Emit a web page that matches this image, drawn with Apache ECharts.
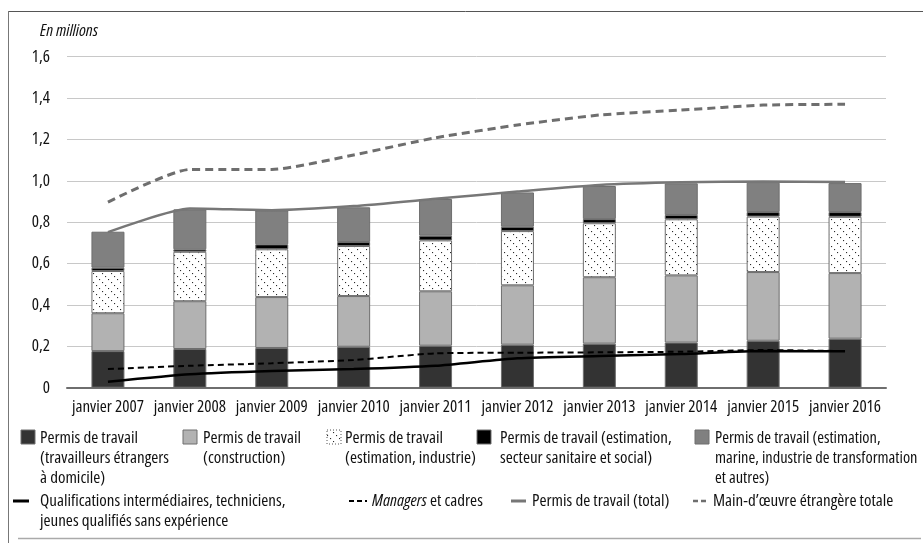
<!DOCTYPE html>
<html>
<head>
<meta charset="utf-8">
<script src="https://cdn.jsdelivr.net/npm/echarts@6/dist/echarts.min.js"></script>
<style>
  html, body { margin: 0; padding: 0; background: #fff; }
  #chart { width: 923px; height: 543px; }
</style>
</head>
<body>
<div id="chart"></div>
<script>
// Years shown on the horizontal axis
const categories = ['janvier 2007', 'janvier 2008', 'janvier 2009', 'janvier 2010', 'janvier 2011',
                    'janvier 2012', 'janvier 2013', 'janvier 2014', 'janvier 2015', 'janvier 2016'];

// Work permits by sector (millions), stacked
const permitsDomestic     = [0.177, 0.187, 0.192, 0.198, 0.203, 0.208, 0.213, 0.218, 0.227, 0.237];
const permitsConstruction = [0.183, 0.231, 0.246, 0.245, 0.263, 0.287, 0.321, 0.325, 0.332, 0.317];
const permitsIndustry     = [0.204, 0.239, 0.231, 0.242, 0.246, 0.262, 0.261, 0.271, 0.268, 0.272];
const permitsHealth       = [0.016, 0.012, 0.024, 0.019, 0.023, 0.021, 0.020, 0.021, 0.022, 0.023];
const permitsMarine       = [0.174, 0.193, 0.164, 0.168, 0.177, 0.166, 0.160, 0.153, 0.142, 0.140];

// Lines (millions)
const permitsTotal   = [0.752, 0.866, 0.858, 0.878, 0.913, 0.948, 0.980, 0.993, 0.997, 0.994];
const foreignTotal   = [0.897, 1.055, 1.055, 1.125, 1.208, 1.270, 1.318, 1.342, 1.366, 1.370];
const midSkilled     = [0.029, 0.065, 0.081, 0.090, 0.106, 0.142, 0.153, 0.163, 0.177, 0.176];
const managers       = [0.090, 0.106, 0.118, 0.134, 0.166, 0.169, 0.171, 0.174, 0.182, 0.177];

// Value axis ticks
const yTicks = [0, 0.2, 0.4, 0.6, 0.8, 1.0, 1.2, 1.4, 1.6];

// Pick the narrowest installed sans face (condensed width if the face offers one)
const fontChoice = (function () {
  const ctx = document.createElement('canvas').getContext('2d');
  const sample = 'Permis de travail';
  const measure = f => { ctx.font = f; return ctx.measureText(sample).width; };
  const fams = ['"Liberation Sans Narrow"', '"DejaVu Sans Condensed"', '"Open Sans"', '"Noto Sans"',
                '"DejaVu Sans"', 'Roboto', 'Lato', 'Inter', '"Liberation Sans"'];
  let best = null;
  fams.forEach(fam => {
    const installed = measure('16px ' + fam + ', monospace') !== measure('16px monospace');
    if (!installed) return;
    ['condensed ', ''].forEach(st => {
      const w = measure(st + '16px ' + fam);
      if (!best || w < best.w - 0.5) best = { fam, st: st.trim(), w };
    });
  });
  return best || { fam: 'sans-serif', st: '', w: 120 };
})();
const FONT = fontChoice.fam + ', sans-serif';
const STRETCH = fontChoice.st;                 // 'condensed' or ''
// Size so that the legend lines keep their measured width
const FS = Math.max(13, Math.min(17, Math.round(16 * 98 / fontChoice.w)));
const fontStr = (size, style) => [style || '', STRETCH, size + 'px', FONT].join(' ').trim();

// Dotted diagonal hatch used for the industry segment
function makeHatch() {
  const c = document.createElement('canvas');
  c.width = 9; c.height = 9;
  const g = c.getContext('2d');
  g.fillStyle = '#ffffff';
  g.fillRect(0, 0, 9, 9);
  g.fillStyle = '#2a2a2a';
  [[0, 0], [3, 3], [6, 6]].forEach(([x, y]) => g.fillRect(x, y, 1.1, 1.1));
  return c;
}
const hatch = { image: makeHatch(), repeat: 'repeat' };

const BORDER = '#6e6e6e';
function barSeries(name, data, color) {
  return {
    name, type: 'bar', stack: 'permis', data, barWidth: 33,
    itemStyle: { color, borderColor: BORDER, borderWidth: 1 },
    emphasis: { disabled: true }
  };
}
function lineSeries(name, data, color, width, dash) {
  return {
    name, type: 'line', data, symbol: 'none', smooth: 0.2, z: 5,
    lineStyle: { color, width, type: dash ? dash : 'solid' }
  };
}

// Legend drawn as graphic groups so multi-line labels align with their swatch
const textBase = { font: fontStr(FS), fill: '#111', lineHeight: 20, verticalAlign: 'top' };
function swatch(x, y, fill, dashedBorder) {
  return {
    type: 'rect', shape: { x, y, width: 14, height: 14 },
    style: { fill, stroke: dashedBorder ? '#555' : BORDER, lineWidth: 1, lineDash: dashedBorder ? [1, 2] : null }
  };
}
function label(x, y, text, extra) {
  return { type: 'text', x, y, style: Object.assign({}, textBase, { text }, extra || {}) };
}
function lineKey(x1, x2, y, color, width, dash) {
  return {
    type: 'line', shape: { x1, y1: y, x2, y2: y },
    style: { stroke: color, lineWidth: width, lineDash: dash || null }
  };
}

const row1 = 428, row2 = 491;
const legendGraphics = [
  swatch(21, 430, '#333333'),
  label(40, row1, 'Permis de travail\n(travailleurs étrangers\nà domicile)'),
  swatch(183, 430, '#b2b2b2'),
  label(203, row1, 'Permis de travail\n(construction)'),
  swatch(327, 430, hatch, true),
  label(345, row1, 'Permis de travail\n(estimation, industrie)'),
  swatch(477, 430, '#000000'),
  label(500, row1, 'Permis de travail (estimation,\nsecteur sanitaire et social)'),
  swatch(695, 430, '#808080'),
  label(715, row1, 'Permis de travail (estimation,\nmarine, industrie de transformation\net autres)',
        { font: fontStr(FS - 0.6) }),

  lineKey(13, 29, 501, '#000000', 3),
  label(40, row2, 'Qualifications intermédiaires, techniciens,\njeunes qualifiés sans expérience'),
  lineKey(349, 367, 501, '#000000', 2, [5, 3]),
  label(372, row2, '{i|Managers} et cadres', { rich: { i: { font: fontStr(FS, 'italic') } } }),
  lineKey(511, 526, 501, '#777777', 3),
  label(532, row2, 'Permis de travail (total)'),
  lineKey(693, 709, 501, '#6e6e6e', 2.5, [5, 3]),
  label(713, row2, 'Main-d’œuvre étrangère totale')
];

// Outer frame and unit caption
const frameGraphics = [
  lineKey(8, 923, 11.5, '#555555', 1),
  { type: 'line', shape: { x1: 8.5, y1: 11, x2: 8.5, y2: 543 }, style: { stroke: '#777777', lineWidth: 1 } },
  lineKey(18, 921, 538.5, '#aaaaaa', 1.5),
  { type: 'text', x: 40, y: 23, style: { text: 'En millions', font: fontStr(FS, 'italic'), fill: '#111' } }
];

const axisFont = { color: '#111', fontFamily: FONT, fontSize: FS, fontWeight: STRETCH || 'normal' };

const chart = echarts.init(document.getElementById('chart'), null, { renderer: 'canvas' });
chart.setOption({
  animation: false,
  backgroundColor: '#ffffff',
  grid: { left: 67, right: 37, top: 56.7, bottom: 155.3, containLabel: false },
  xAxis: {
    type: 'category', data: categories,
    axisLine: { lineStyle: { color: '#6e6e6e', width: 2 } },
    axisTick: { show: false },
    axisLabel: Object.assign({ margin: 11, interval: 0 }, axisFont)
  },
  yAxis: {
    type: 'value', min: yTicks[0], max: yTicks[yTicks.length - 1], interval: 0.2,
    axisLine: { show: false }, axisTick: { show: false },
    splitLine: { lineStyle: { color: '#c8c8c8', width: 1 } },
    axisLabel: Object.assign({
      margin: 17,
      formatter: v => v === 0 ? '0' : v.toFixed(1).replace('.', ',')
    }, axisFont)
  },
  series: [
    barSeries('Permis de travail (travailleurs étrangers à domicile)', permitsDomestic, '#333333'),
    barSeries('Permis de travail (construction)', permitsConstruction, '#b2b2b2'),
    barSeries('Permis de travail (estimation, industrie)', permitsIndustry, hatch),
    barSeries('Permis de travail (estimation, secteur sanitaire et social)', permitsHealth, '#000000'),
    barSeries('Permis de travail (estimation, marine, industrie de transformation et autres)', permitsMarine, '#808080'),
    lineSeries('Qualifications intermédiaires, techniciens, jeunes qualifiés sans expérience', midSkilled, '#000000', 2.5),
    lineSeries('Managers et cadres', managers, '#000000', 2, [6, 4]),
    lineSeries('Permis de travail (total)', permitsTotal, '#777777', 2.5),
    lineSeries('Main-d’œuvre étrangère totale', foreignTotal, '#6e6e6e', 3, [8, 5])
  ],
  graphic: frameGraphics.concat(legendGraphics)
});
</script>
</body>
</html>
